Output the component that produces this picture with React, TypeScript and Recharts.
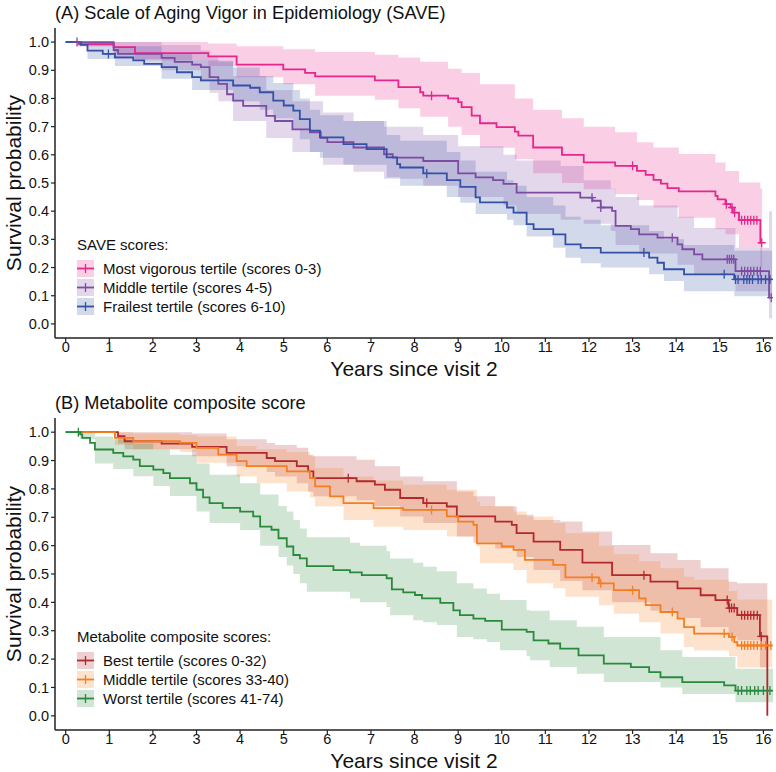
import React from 'react';
import { ComposedChart, Line, Area, XAxis, YAxis, Legend } from 'recharts';

const xTicks = [0, 1, 2, 3, 4, 5, 6, 7, 8, 9, 10, 11, 12, 13, 14, 15, 16];
const yTicks = [0, 0.1, 0.2, 0.3, 0.4, 0.5, 0.6, 0.7, 0.8, 0.9, 1.0];

// ---- panel A: SAVE tertiles ----
// curve: [time, survival], band: [time, lower, upper]
const vigorCurve = [
    [0, 1], [0.3, 0.993], [1.1, 0.982], [1.59, 0.961], [3.27, 0.949], [3.92, 0.92], [4.99, 0.903],
    [5.49, 0.891], [5.72, 0.878], [7.09, 0.864], [7.63, 0.84], [8.13, 0.822], [8.2, 0.81], [8.77, 0.8],
    [9.0, 0.787], [9.08, 0.769], [9.31, 0.739], [9.5, 0.712], [9.88, 0.698], [10.3, 0.682], [10.38, 0.668],
    [10.72, 0.626], [11.38, 0.6], [11.88, 0.573], [12.6, 0.561], [13.1, 0.543], [13.3, 0.529], [13.48, 0.511],
    [13.65, 0.498], [13.8, 0.482], [14.06, 0.47], [14.9, 0.454], [14.95, 0.442], [15.13, 0.425], [15.25, 0.413],
    [15.3, 0.395], [15.44, 0.368], [15.93, 0.288], [15.97, 0.288],
];
const vigorCensor = [8.39, 13.0, 15.15, 15.28, 15.34, 15.5, 15.57, 15.64, 15.71, 15.78, 15.85, 15.96];
const vigorBand = [
    [0, 1, 1], [0.3, 0.985, 1], [1.1, 0.96, 1], [1.59, 0.935, 1], [3.27, 0.915, 0.995], [3.92, 0.875, 0.985],
    [4.99, 0.85, 0.975], [5.72, 0.81, 0.965], [7.09, 0.795, 0.955], [7.63, 0.765, 0.945], [8.13, 0.735, 0.93],
    [8.77, 0.7, 0.905], [9.08, 0.67, 0.89], [9.5, 0.625, 0.85], [10.3, 0.585, 0.8], [10.72, 0.535, 0.76],
    [11.38, 0.5, 0.73], [11.88, 0.478, 0.7], [12.6, 0.46, 0.68], [13.1, 0.44, 0.645], [13.48, 0.413, 0.626],
    [14.06, 0.377, 0.603], [14.9, 0.336, 0.573], [15.13, 0.318, 0.543], [15.44, 0.27, 0.502],
    [15.93, 0.2, 0.48], [15.97, 0.2, 0.48],
];

const middleACurve = [
    [0, 1], [1.1, 0.972], [1.2, 0.958], [2.2, 0.944], [2.5, 0.93], [2.9, 0.92], [3.1, 0.911], [3.3, 0.876],
    [3.5, 0.852], [3.7, 0.815], [3.84, 0.792], [4.07, 0.774], [4.6, 0.738], [4.8, 0.72], [5.2, 0.69],
    [5.6, 0.68], [5.85, 0.66], [6.0, 0.645], [6.6, 0.626], [7.3, 0.602], [7.5, 0.59], [8.2, 0.578],
    [9.0, 0.534], [9.4, 0.52], [9.8, 0.51], [10.04, 0.497], [10.34, 0.466], [11.8, 0.448], [12.08, 0.437],
    [12.27, 0.413], [12.53, 0.401], [12.61, 0.348], [12.96, 0.336], [13.15, 0.318], [13.57, 0.306],
    [14.03, 0.282], [14.14, 0.265], [14.41, 0.247], [14.6, 0.229], [15.36, 0.187], [16.13, 0.093], [16.2, 0.093],
];
const middleACensor = [0.26, 12.07, 12.27, 13.91, 15.17, 15.22, 15.27, 15.32, 15.5, 15.57, 15.64, 15.71, 15.78, 15.86, 15.93, 16.18];
const middleABand = [
    [0, 1, 1], [0.26, 0.985, 1], [1.1, 0.94, 1], [2.2, 0.9, 0.99], [3.1, 0.86, 0.97], [3.3, 0.82, 0.95],
    [3.5, 0.79, 0.93], [3.84, 0.72, 0.88], [4.6, 0.66, 0.83], [5.2, 0.61, 0.79], [5.9, 0.565, 0.75],
    [6.6, 0.54, 0.72], [7.3, 0.515, 0.7], [8.2, 0.49, 0.67], [9.0, 0.45, 0.63], [10.04, 0.42, 0.6],
    [10.34, 0.39, 0.58], [11.35, 0.37, 0.56], [11.88, 0.355, 0.51], [12.5, 0.33, 0.48], [12.61, 0.28, 0.45],
    [13.15, 0.25, 0.42], [14.03, 0.21, 0.38], [14.41, 0.175, 0.34], [15.36, 0.116, 0.27],
    [16.13, 0.02, 0.4], [16.2, 0.02, 0.4],
];

const frailCurve = [
    [0, 1], [0.35, 0.99], [0.5, 0.97], [0.85, 0.958], [1.13, 0.946], [1.55, 0.935], [1.8, 0.923], [2.2, 0.911],
    [2.55, 0.893], [2.9, 0.876], [3.1, 0.864], [3.84, 0.846], [4.23, 0.838], [4.45, 0.822], [4.76, 0.792],
    [5.0, 0.775], [5.22, 0.757], [5.37, 0.727], [5.6, 0.686], [5.83, 0.662], [6.37, 0.638], [6.9, 0.62],
    [7.36, 0.591], [7.6, 0.567], [7.67, 0.555], [8.2, 0.534], [8.74, 0.51], [9.05, 0.486], [9.4, 0.449],
    [9.5, 0.431], [10.12, 0.413], [10.27, 0.395], [10.57, 0.354], [10.73, 0.336], [11.18, 0.318],
    [11.46, 0.282], [11.81, 0.27], [12.27, 0.253], [13.38, 0.235], [13.57, 0.217], [13.72, 0.194],
    [14.18, 0.176], [15.33, 0.158], [16.2, 0.158],
];
const frailCensor = [0.98, 8.28, 13.26, 15.1, 15.36, 15.42, 15.55, 15.62, 15.68, 15.75, 15.88, 15.95, 16.05, 16.15];
const frailBand = [
    [0, 1, 1], [0.5, 0.94, 1], [1.13, 0.915, 0.985], [2.2, 0.87, 0.96], [2.9, 0.83, 0.935], [3.84, 0.79, 0.91],
    [4.45, 0.76, 0.88], [4.76, 0.73, 0.855], [5.22, 0.69, 0.83], [5.37, 0.655, 0.8], [5.6, 0.61, 0.76],
    [5.83, 0.59, 0.74], [6.37, 0.565, 0.72], [7.36, 0.52, 0.67], [7.67, 0.49, 0.65], [8.74, 0.45, 0.61],
    [9.05, 0.43, 0.58], [9.4, 0.39, 0.54], [10.12, 0.37, 0.51], [10.27, 0.35, 0.49], [10.57, 0.31, 0.45],
    [11.18, 0.27, 0.42], [11.46, 0.235, 0.38], [11.81, 0.215, 0.37], [12.27, 0.2, 0.35], [13.38, 0.176, 0.33],
    [13.72, 0.152, 0.3], [14.18, 0.116, 0.28], [15.33, 0.098, 0.26], [16.2, 0.098, 0.26],
];

// ---- panel B: metabolite composite score tertiles ----
const bestCurve = [
    [0, 1], [1.2, 0.986], [1.35, 0.968], [2.2, 0.96], [2.9, 0.948], [3.69, 0.927], [4.61, 0.909], [4.8, 0.898],
    [5.3, 0.88], [5.56, 0.862], [5.68, 0.838], [6.67, 0.827], [7.09, 0.815], [7.32, 0.797], [7.67, 0.768],
    [8.2, 0.75], [8.74, 0.738], [8.97, 0.703], [9.85, 0.685], [10.23, 0.673], [10.34, 0.644], [10.73, 0.614],
    [11.34, 0.585], [11.85, 0.54], [12.53, 0.496], [13.41, 0.473], [14.03, 0.449], [14.56, 0.425],
    [14.9, 0.408], [15.2, 0.38], [15.4, 0.355], [15.92, 0.28], [16.09, 0],
];
const bestCensor = [6.48, 8.28, 13.26, 15.17, 15.22, 15.27, 15.33, 15.5, 15.57, 15.64, 15.71, 15.78, 15.86, 15.95];
const bestBand = [
    [0, 1, 1], [1.2, 0.96, 1], [1.35, 0.94, 1], [2.9, 0.915, 0.995], [3.69, 0.88, 0.975], [4.61, 0.86, 0.962],
    [4.8, 0.844, 0.955], [5.3, 0.82, 0.945], [5.56, 0.79, 0.92], [5.68, 0.774, 0.915], [6.67, 0.76, 0.903],
    [7.09, 0.74, 0.88], [7.67, 0.703, 0.844], [8.2, 0.68, 0.827], [8.97, 0.632, 0.791], [9.35, 0.61, 0.774],
    [9.85, 0.59, 0.738], [10.34, 0.56, 0.709], [10.73, 0.514, 0.69], [11.34, 0.475, 0.685],
    [11.85, 0.443, 0.65], [12.53, 0.4, 0.602], [13.41, 0.37, 0.573], [14.03, 0.345, 0.549],
    [14.56, 0.313, 0.52], [15.2, 0.28, 0.473], [15.4, 0.266, 0.467], [15.92, 0.17, 0.467], [16.09, 0.17, 0.467],
];

const middleBCurve = [
    [0, 1], [1.13, 0.98], [1.55, 0.968], [2.62, 0.962], [3.0, 0.945], [3.5, 0.921], [3.92, 0.898], [4.15, 0.88],
    [5.07, 0.862], [5.6, 0.838], [5.72, 0.809], [6.06, 0.774], [6.37, 0.75], [7.06, 0.732], [7.74, 0.726],
    [8.74, 0.703], [9.0, 0.685], [9.35, 0.673], [9.43, 0.608], [10.0, 0.597], [10.27, 0.585], [10.53, 0.55],
    [11.18, 0.532], [11.46, 0.488], [12.23, 0.467], [12.57, 0.443], [13.15, 0.414], [13.3, 0.39],
    [13.64, 0.366], [14.03, 0.343], [14.18, 0.313], [14.41, 0.29], [15.21, 0.278], [15.33, 0.26],
    [15.4, 0.248], [16.2, 0.248],
];
const middleBCensor = [8.39, 12.07, 12.27, 13.0, 13.91, 15.1, 15.28, 15.5, 15.57, 15.64, 15.71, 15.78, 15.86, 15.95, 16.05, 16.17];
const middleBBand = [
    [0, 1, 1], [1.13, 0.955, 1], [1.55, 0.94, 0.995], [2.62, 0.93, 0.99], [3.0, 0.892, 0.985],
    [3.92, 0.844, 0.951], [4.38, 0.82, 0.94], [5.07, 0.791, 0.93], [5.6, 0.77, 0.915], [5.72, 0.738, 0.874],
    [6.37, 0.69, 0.844], [7.06, 0.667, 0.83], [7.74, 0.655, 0.815], [8.74, 0.632, 0.797], [9.43, 0.597, 0.756],
    [9.5, 0.538, 0.74], [10.27, 0.514, 0.72], [10.57, 0.467, 0.703], [11.18, 0.45, 0.68], [11.46, 0.42, 0.644],
    [12.23, 0.39, 0.6], [12.57, 0.36, 0.57], [13.15, 0.33, 0.545], [13.64, 0.29, 0.52], [14.18, 0.243, 0.49],
    [14.41, 0.23, 0.48], [15.21, 0.21, 0.44], [15.4, 0.17, 0.41], [16.2, 0.17, 0.41],
];

const worstCurve = [
    [0, 1], [0.33, 0.992], [0.38, 0.98], [0.56, 0.962], [0.67, 0.939], [1.09, 0.927], [1.32, 0.915],
    [1.55, 0.903], [1.7, 0.88], [2.01, 0.868], [2.24, 0.856], [2.39, 0.838], [2.85, 0.82], [3.0, 0.797],
    [3.15, 0.77], [3.3, 0.75], [3.6, 0.733], [4.0, 0.72], [4.3, 0.703], [4.46, 0.667], [4.72, 0.656],
    [4.88, 0.626], [5.07, 0.597], [5.22, 0.567], [5.37, 0.555], [5.53, 0.528], [6.14, 0.514], [6.52, 0.506],
    [6.79, 0.496], [7.36, 0.485], [7.48, 0.446], [7.74, 0.435], [8.01, 0.426], [8.17, 0.414], [8.59, 0.398],
    [8.89, 0.372], [9.04, 0.355], [9.35, 0.343], [9.62, 0.335], [10.0, 0.304], [10.57, 0.296], [10.73, 0.266],
    [11.07, 0.255], [11.34, 0.237], [11.76, 0.213], [12.34, 0.184], [12.96, 0.172], [13.38, 0.154],
    [13.64, 0.136], [14.14, 0.119], [15.1, 0.107], [15.36, 0.089], [16.24, 0.089],
];
const worstCensor = [0.29, 15.42, 15.5, 15.62, 15.7, 15.8, 15.88, 16.0, 16.15];
const worstBand = [
    [0, 1, 1], [0.33, 0.975, 1], [0.67, 0.89, 0.985], [1.09, 0.87, 0.975], [1.55, 0.845, 0.96],
    [2.01, 0.81, 0.94], [2.39, 0.775, 0.92], [3.0, 0.72, 0.89], [3.3, 0.68, 0.85], [4.0, 0.655, 0.82],
    [4.46, 0.6, 0.78], [4.88, 0.56, 0.74], [5.07, 0.53, 0.72], [5.22, 0.5, 0.69], [5.37, 0.467, 0.66],
    [5.53, 0.437, 0.63], [6.52, 0.414, 0.61], [6.75, 0.4, 0.6], [7.36, 0.384, 0.58], [7.44, 0.355, 0.555],
    [7.97, 0.337, 0.54], [8.2, 0.33, 0.526], [8.51, 0.32, 0.51], [8.97, 0.278, 0.467], [9.35, 0.27, 0.449],
    [9.66, 0.26, 0.43], [9.96, 0.231, 0.408], [10.57, 0.21, 0.372], [10.65, 0.196, 0.37], [11.1, 0.172, 0.337],
    [11.72, 0.148, 0.314], [12.34, 0.119, 0.278], [13.64, 0.1, 0.231], [14.14, 0.077, 0.207],
    [15.36, 0.048, 0.166], [16.24, 0.048, 0.166],
];

const saveLabels = ['Most vigorous tertile (scores 0-3)', 'Middle tertile (scores 4-5)', 'Frailest tertile (scores 6-10)'];
const saveColors = ['#E8258C', '#7E4BA3', '#3451A6'];
const metLabels = ['Best tertile (scores 0-32)', 'Middle tertile (scores 33-40)', 'Worst tertile (scores 41-74)'];
const metColors = ['#B3282D', '#F47E20', '#2A8A3C'];

// merge step points with censor marks (a censor mark sits on the current step level)
function curveRows(curve: number[][], censor: number[]) {
    const rows = curve.map(([t, s]) => ({ t, s, c: false }));
    censor.forEach(tc => {
        let s = curve[0][1];
        curve.forEach(([t, v]) => {
            if (t <= tc) s = v;
        });
        rows.push({ t: tc, s, c: true });
    });
    return rows.sort((a, b) => a.t - b.t);
}

function bandRows(band: number[][]) {
    return band.map(([t, lo, hi]) => ({ t, ci: [lo, hi] }));
}

const censorDot = (color: string) => (p: any) => {
    if (!p || !p.payload || !p.payload.c || p.cx == null) {
        return <g key={`n-${p?.index}`} />;
    }
    const { cx, cy } = p;
    return (
        <path
            key={`c-${p.index}`}
            d={`M${cx - 4},${cy}H${cx + 4}M${cx},${cy - 4.5}V${cy + 4.5}`}
            stroke={color}
            strokeWidth={1.3}
            fill="none"
        />
    );
};

const FONT = '"Liberation Sans", Arial, sans-serif';
const TEXT = '#111';

interface Series {
    name: string;
    color: string;
    curve: number[][];
    censor: number[];
    band: number[][];
}

function LegendBox({ title, series }: { title: string; series: Series[] }) {
    return (
        <div style={{ fontFamily: FONT, fontSize: 15, color: TEXT }}>
            <div style={{ height: 20, lineHeight: '20px', whiteSpace: 'nowrap' }}>{title}</div>
            <div style={{ height: 4 }} />
            {series.map(s => (
                <div key={s.name} style={{ display: 'flex', alignItems: 'center', height: 19, whiteSpace: 'nowrap' }}>
                    <svg width={17} height={17} style={{ marginRight: 9 }}>
                        <rect x={0} y={0} width={17} height={17} fill={s.color} fillOpacity={0.22} />
                        <line x1={0} y1={8.5} x2={17} y2={8.5} stroke={s.color} strokeWidth={1.8} />
                        <line x1={8.5} y1={4} x2={8.5} y2={13} stroke={s.color} strokeWidth={1.3} />
                    </svg>
                    <span style={{ lineHeight: '19px' }}>{s.name}</span>
                </div>
            ))}
        </div>
    );
}

function SurvPanel({
    top,
    height,
    bottomMargin,
    title,
    legendTitle,
    legendTop,
    series,
}: {
    top: number;
    height: number;
    bottomMargin: number;
    title: string;
    legendTitle: string;
    legendTop: number;
    series: Series[];
}) {
    const plotTop = 28;
    const plotBottom = height - bottomMargin - 24;
    return (
        <div style={{ position: 'absolute', left: 0, top, width: 776, height }}>
            <div
                style={{
                    position: 'absolute',
                    left: 55,
                    top: 2,
                    height: 22,
                    lineHeight: '22px',
                    fontSize: 18.2,
                    fontFamily: FONT,
                    color: TEXT,
                    whiteSpace: 'nowrap',
                }}
            >
                {title}
            </div>
            <ComposedChart
                width={776}
                height={height}
                margin={{ top: plotTop, right: 3, bottom: bottomMargin, left: 0 }}
            >
                <XAxis
                    type="number"
                    dataKey="t"
                    domain={[-0.245, 16.22]}
                    ticks={xTicks}
                    allowDataOverflow
                    height={24}
                    interval={0}
                    tickSize={4}
                    tickMargin={0}
                    axisLine={{ stroke: '#222', strokeWidth: 1.5 }}
                    tickLine={{ stroke: '#222', strokeWidth: 1.2 }}
                    tick={{ fontSize: 14.5, fill: TEXT, fontFamily: FONT }}
                />
                <YAxis
                    type="number"
                    domain={[-0.05, 1.05]}
                    ticks={yTicks}
                    allowDataOverflow
                    width={55}
                    interval={0}
                    tickSize={4}
                    tickMargin={2}
                    tickFormatter={(v: number) => v.toFixed(1)}
                    axisLine={{ stroke: '#222', strokeWidth: 1.5 }}
                    tickLine={{ stroke: '#222', strokeWidth: 1.2 }}
                    tick={{ fontSize: 14.5, fill: TEXT, fontFamily: FONT }}
                />
                {series.map(s => (
                    <Area
                        key={`band-${s.name}`}
                        data={bandRows(s.band)}
                        dataKey="ci"
                        type="stepAfter"
                        stroke="none"
                        fill={s.color}
                        fillOpacity={0.22}
                        isAnimationActive={false}
                        legendType="none"
                    />
                ))}
                {series.map(s => (
                    <Line
                        key={`line-${s.name}`}
                        data={curveRows(s.curve, s.censor)}
                        dataKey="s"
                        name={s.name}
                        type="stepAfter"
                        stroke={s.color}
                        strokeWidth={1.8}
                        dot={censorDot(s.color)}
                        activeDot={false}
                        isAnimationActive={false}
                    />
                ))}
                <Legend
                    layout="vertical"
                    align="center"
                    verticalAlign="middle"
                    wrapperStyle={{ position: 'absolute', left: 77, top: legendTop, width: 320 }}
                    content={() => <LegendBox title={legendTitle} series={series} />}
                />
            </ComposedChart>
            <div
                style={{
                    position: 'absolute',
                    left: 13,
                    top: (plotTop + plotBottom) / 2,
                    transform: 'translate(-50%, -50%) rotate(-90deg)',
                    fontSize: 21,
                    lineHeight: '21px',
                    fontFamily: FONT,
                    color: TEXT,
                    whiteSpace: 'nowrap',
                }}
            >
                Survival probability
            </div>
            <div
                style={{
                    position: 'absolute',
                    left: 414,
                    top: plotBottom + 31,
                    transform: 'translate(-50%, -50%)',
                    fontSize: 21,
                    lineHeight: '20px',
                    fontFamily: FONT,
                    color: TEXT,
                    whiteSpace: 'nowrap',
                }}
            >
                Years since visit 2
            </div>
        </div>
    );
}

const saveSeries: Series[] = [
    { name: saveLabels[0], color: saveColors[0], curve: vigorCurve, censor: vigorCensor, band: vigorBand },
    { name: saveLabels[1], color: saveColors[1], curve: middleACurve, censor: middleACensor, band: middleABand },
    { name: saveLabels[2], color: saveColors[2], curve: frailCurve, censor: frailCensor, band: frailBand },
];

const metSeries: Series[] = [
    { name: metLabels[0], color: metColors[0], curve: bestCurve, censor: bestCensor, band: bestBand },
    { name: metLabels[1], color: metColors[1], curve: middleBCurve, censor: middleBCensor, band: middleBBand },
    { name: metLabels[2], color: metColors[2], curve: worstCurve, censor: worstCensor, band: worstBand },
];

export default function App() {
    return (
        <div
            style={{
                position: 'absolute',
                left: 0,
                top: 0,
                width: 776,
                height: 772,
                background: '#fff',
                overflow: 'hidden',
            }}
        >
            <SurvPanel
                top={0}
                height={386}
                bottomMargin={24}
                title="(A) Scale of Aging Vigor in Epidemiology (SAVE)"
                legendTitle="SAVE scores:"
                legendTop={235}
                series={saveSeries}
            />
            <SurvPanel
                top={390}
                height={382}
                bottomMargin={18}
                title="(B) Metabolite composite score"
                legendTitle="Metabolite composite scores:"
                legendTop={237}
                series={metSeries}
            />
        </div>
    );
}
